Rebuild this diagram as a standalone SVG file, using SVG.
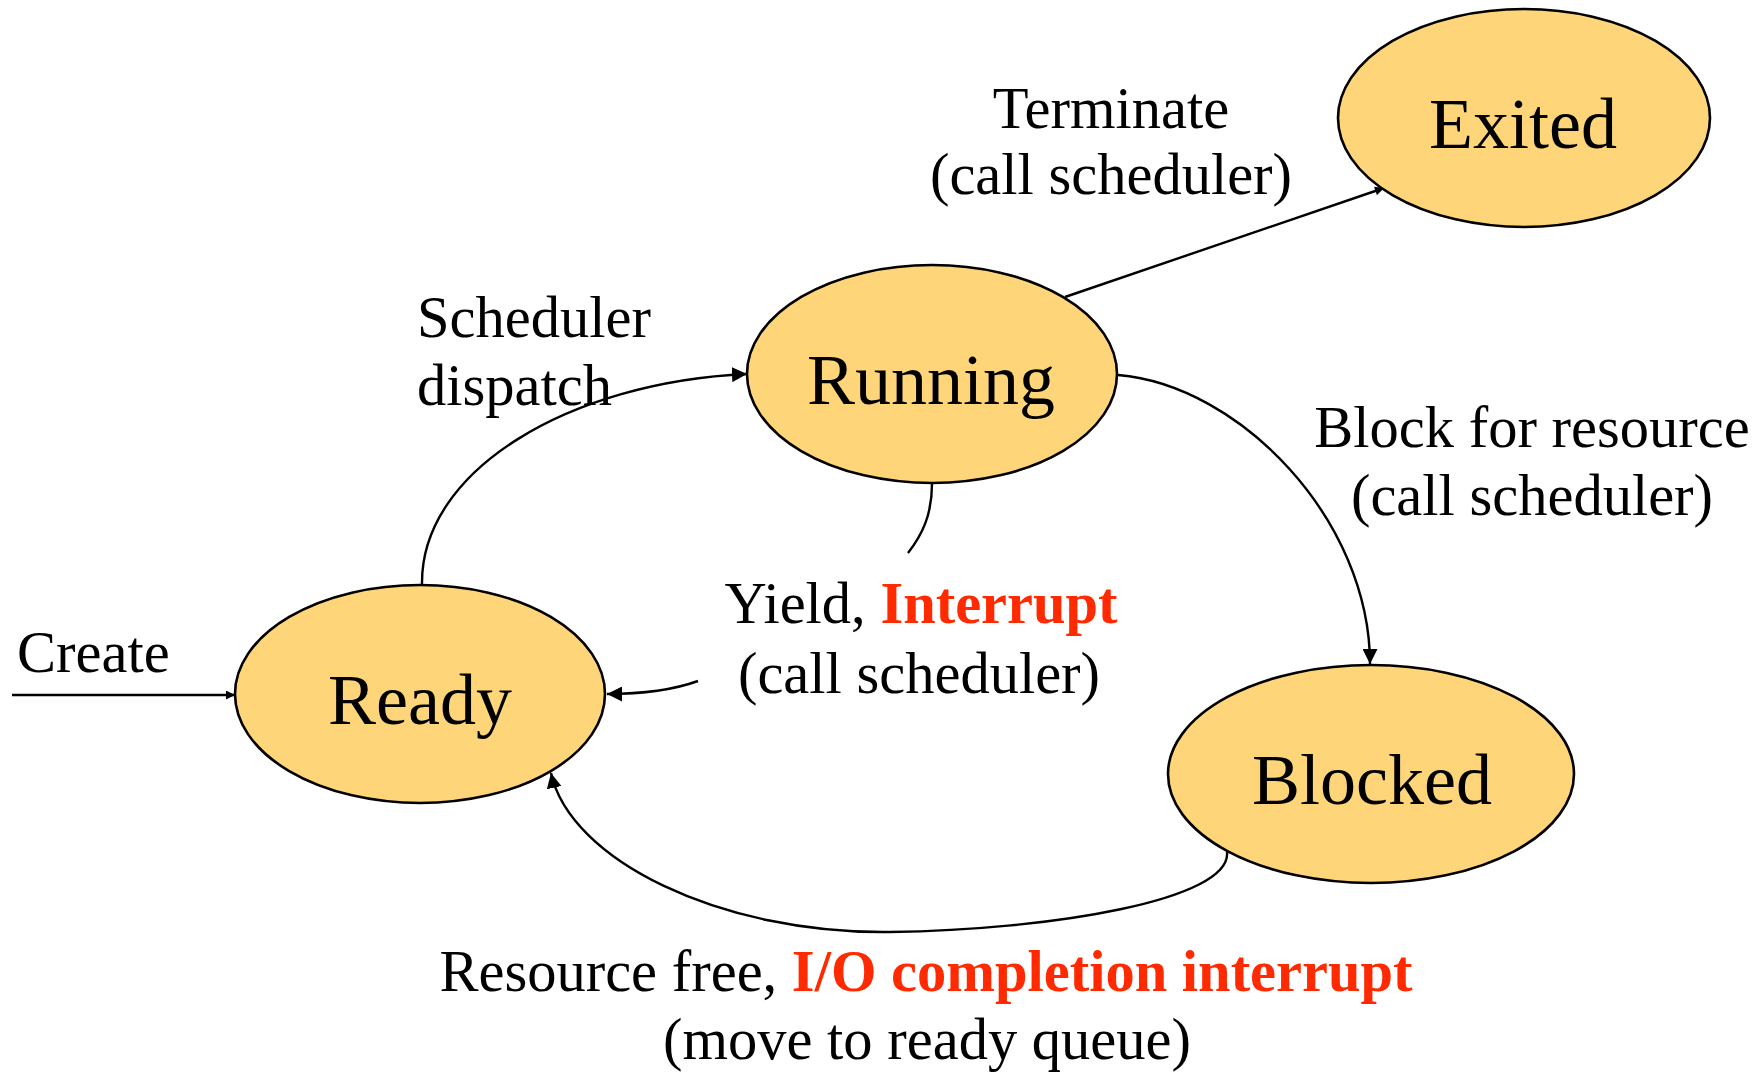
<svg xmlns="http://www.w3.org/2000/svg" width="1761" height="1073" viewBox="0 0 1761 1073">
<style>
.node{fill:#FFD57A;stroke:#000;stroke-width:2.6}
.nt{font-family:"Liberation Serif","Times New Roman",serif;font-size:72px;fill:#000;text-anchor:middle}
.lbl{font-family:"Liberation Serif","Times New Roman",serif;font-size:58.5px;fill:#000}
.red{fill:#FF2A00;font-weight:bold}
.c{text-anchor:middle}
.edge{fill:none;stroke:#000;stroke-width:2.4}
</style>
<defs>
<marker id="big" viewBox="0 0 10 10" refX="10" refY="5" markerWidth="15" markerHeight="15" markerUnits="userSpaceOnUse" orient="auto">
<path d="M0,0 L10,5 L0,10 Z" fill="#000"/>
</marker>
<marker id="small" viewBox="0 0 10 10" refX="10" refY="5" markerWidth="10" markerHeight="9" markerUnits="userSpaceOnUse" orient="auto">
<path d="M0,0 L10,5 L0,10 Z" fill="#000"/>
</marker>
</defs>
<rect width="1761" height="1073" fill="#fff"/>
<g id="connectors">
<path class="edge" d="M12 695 L235 695" marker-end="url(#small)"/>
<path class="edge" d="M422 585 C420 470 570 382 747 374" marker-end="url(#big)"/>
<path class="edge" d="M1065 297 L1384 188" marker-end="url(#small)"/>
<path class="edge" d="M1118 375 C1240 385 1370 520 1370 664" marker-end="url(#big)"/>
<path class="edge" d="M932 484 C932 515 922 535 908 553"/>
<path class="edge" d="M698 681 Q662 694 607 694" marker-end="url(#big)"/>
<path class="edge" d="M1227 852 C1232 900 1050 930 890 932 C720 934 570 860 551 773" marker-end="url(#big)"/>
</g>
<g id="node-exited">
<ellipse class="node" cx="1524" cy="118" rx="186" ry="109"/>
<text class="nt" x="1523" y="148">Exited</text>
</g>
<g id="node-running">
<ellipse class="node" cx="932" cy="374" rx="185" ry="109"/>
<text class="nt" x="931" y="404">Running</text>
</g>
<g id="node-ready">
<ellipse class="node" cx="420" cy="694" rx="185" ry="109"/>
<text class="nt" x="420" y="724">Ready</text>
</g>
<g id="node-blocked">
<ellipse class="node" cx="1371" cy="774" rx="203" ry="109"/>
<text class="nt" x="1372" y="804">Blocked</text>
</g>
<g id="labels">
<text class="lbl" x="17" y="672">Create</text>
<text class="lbl" x="417" y="337">Scheduler</text>
<text class="lbl" x="417" y="405">dispatch</text>
<text class="lbl c" x="1111" y="128">Terminate</text>
<text class="lbl c" x="1111" y="194">(call scheduler)</text>
<text class="lbl c" x="1532" y="447">Block for resource</text>
<text class="lbl c" x="1532" y="515">(call scheduler)</text>
<text class="lbl c" x="921" y="623">Yield, <tspan class="red">Interrupt</tspan></text>
<text class="lbl c" x="919" y="693">(call scheduler)</text>
<text class="lbl c" x="926" y="991">Resource free, <tspan class="red">I/O completion interrupt</tspan></text>
<text class="lbl c" x="927" y="1059">(move to ready queue)</text>
</g>
</svg>
